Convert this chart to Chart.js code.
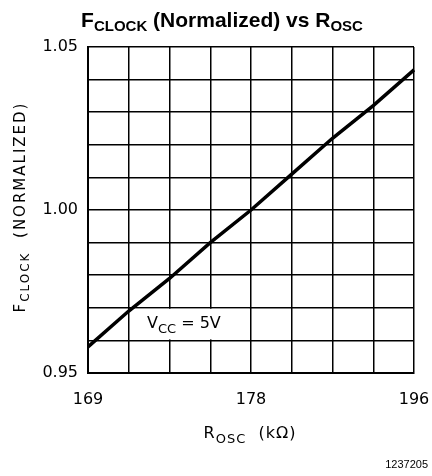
<!DOCTYPE html>
<html>
<head>
<meta charset="utf-8">
<script src="https://cdn.jsdelivr.net/npm/chart.js@4"></script>
<style>
  html, body { margin: 0; padding: 0; background: #fff; }
  #wrap { width: 432px; height: 476px; position: relative; }
</style>
</head>
<body>
<div id="wrap"><canvas id="myChart" width="432" height="476"></canvas></div>
<script>
// x axis is not linear in R, so points sit on the 9 grid columns
const rOscLabels = ['169', '', '', '', '178', '', '', '', '196'];
const fClock = [0.958, 0.969, 0.979, 0.990, 1.000, 1.011, 1.022, 1.032, 1.043];
const yTickLabels = [0.95, 1.00, 1.05];

const tickFont = 'DejaVu Sans';

// draws a run of [text, size, dy, weight] pieces starting at x
const drawPieces = (ctx, pieces, x, y, family) => {
    pieces.forEach(([txt, size, dy, weight]) => {
        ctx.font = `${weight || 'normal'} ${size}px ${family}`;
        ctx.fillText(txt, x, y + dy);
        x += ctx.measureText(txt).width;
    });
};
const piecesWidth = (ctx, pieces, family) => {
    let w = 0;
    pieces.forEach(([txt, size, dy, weight]) => {
        ctx.font = `${weight || 'normal'} ${size}px ${family}`;
        w += ctx.measureText(txt).width;
    });
    return w;
};

const labelsPlugin = {
    id: 'labels',
    beforeDatasetsDraw(chart) {
        const { ctx, scales } = chart;
        const x = scales.x, y = scales.y;
        // white box behind the Vcc note
        ctx.save();
        ctx.fillStyle = '#fff';
        const x0 = x.getPixelForValue(1) + 1.5;
        const x1 = x.getPixelForValue(4) - 1.5;
        const y0 = y.getPixelForValue(0.97) + 1;
        const y1 = y.getPixelForValue(0.96) - 1;
        ctx.fillRect(x0, y0, x1 - x0, y1 - y0);
        ctx.restore();
    },
    afterDraw(chart) {
        const { ctx } = chart;
        ctx.save();
        ctx.fillStyle = '#000';
        ctx.textBaseline = 'alphabetic';
        ctx.textAlign = 'left';

        // title
        const title = [
            ['F', 21, 0, 'bold'], ['CLOCK', 15, 4, 'bold'],
            [' (Normalized) vs R', 21, 0, 'bold'], ['OSC', 15, 4, 'bold']
        ];
        const tw = piecesWidth(ctx, title, 'Liberation Sans');
        drawPieces(ctx, title, 222 - tw / 2, 27, 'Liberation Sans');

        // y axis title
        ctx.save();
        ctx.translate(25, 207);
        ctx.rotate(-Math.PI / 2);
        ctx.letterSpacing = '2px';
        const ytitle = [['F', 15, 0], ['CLOCK', 12, 4], ['  (NORMALIZED)', 15, 0]];
        const yw = piecesWidth(ctx, ytitle, tickFont);
        drawPieces(ctx, ytitle, -yw / 2, 0, tickFont);
        ctx.restore();

        // x axis title
        ctx.save();
        ctx.letterSpacing = '1px';
        const xtitle = [['R', 16, 0], ['OSC', 13, 5], ['  (k\u03A9)', 16, 0]];
        const xw = piecesWidth(ctx, xtitle, tickFont);
        drawPieces(ctx, xtitle, 250 - xw / 2, 438, tickFont);
        ctx.restore();

        // Vcc note
        const note = [['V', 16, 0], ['CC', 13, 5], [' = 5V', 16, 0]];
        drawPieces(ctx, note, 147, 328, tickFont);

        // figure number
        ctx.font = '11px Liberation Sans';
        ctx.textAlign = 'right';
        ctx.fillText('1237205', 428, 468);
        ctx.restore();
    }
};

const ctx = document.getElementById('myChart');
new Chart(ctx, {
    type: 'line',
    data: {
        labels: rOscLabels,
        datasets: [{
            data: fClock,
            borderColor: '#000',
            borderWidth: 3.5,
            pointRadius: 0,
            tension: 0,
            fill: false
        }]
    },
    options: {
        responsive: false,
        animation: false,
        layout: { padding: { top: 47, right: 18, left: 0, bottom: 0 } },
        plugins: {
            legend: { display: false },
            tooltip: { enabled: false },
            title: { display: false }
        },
        scales: {
            x: {
                type: 'category',
                offset: false,
                afterFit: (scale) => {
                    scale.height = 103;
                    scale.paddingLeft = 0;
                    scale.paddingRight = 0;
                },
                grid: { color: '#000', lineWidth: 1.5, drawTicks: false, offset: false },
                border: { color: '#000', width: 2 },
                ticks: {
                    autoSkip: false, maxRotation: 0, padding: 17,
                    color: '#000', font: { family: tickFont, size: 16 }
                }
            },
            y: {
                min: 0.95,
                max: 1.05,
                afterFit: (scale) => {
                    scale.width = 88;
                    scale.paddingTop = 0;
                    scale.paddingBottom = 0;
                },
                grid: { color: '#000', lineWidth: 1.5, drawTicks: false },
                border: { color: '#000', width: 2 },
                ticks: {
                    stepSize: 0.01,
                    padding: 10,
                    color: '#000',
                    font: { family: tickFont, size: 16 },
                    callback: (v) => {
                        const hit = yTickLabels.find((t) => Math.abs(t - v) < 1e-6);
                        return hit !== undefined ? hit.toFixed(2) : '';
                    }
                }
            }
        }
    },
    plugins: [labelsPlugin]
});
</script>
</body>
</html>
